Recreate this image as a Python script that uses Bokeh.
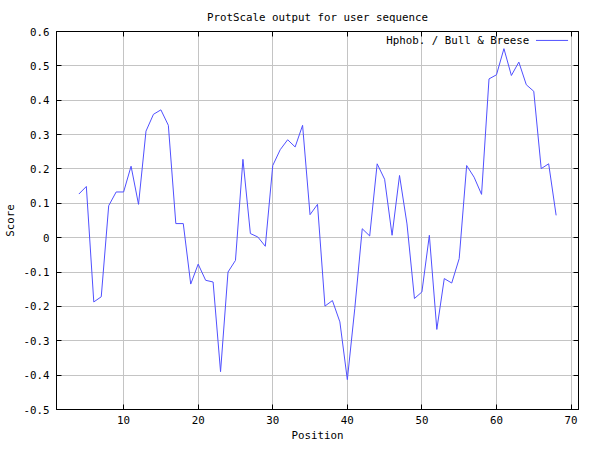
from bokeh.plotting import figure
from bokeh.models import FixedTicker, LinearAxis, Range1d, Label, Arrow
from bokeh.embed import file_html
from bokeh.resources import INLINE

# ---- data ----
positions = list(range(4, 69))
scores = [0.127, 0.149, -0.187, -0.172, 0.093, 0.133, 0.133, 0.208, 0.097, 0.310,
          0.359, 0.372, 0.327, 0.041, 0.041, -0.135, -0.077, -0.124, -0.129, -0.390,
          -0.100, -0.066, 0.228, 0.012, 0.002, -0.025, 0.210, 0.256, 0.285, 0.264,
          0.327, 0.067, 0.097, -0.199, -0.183, -0.245, -0.413, -0.206, 0.026, 0.005,
          0.215, 0.170, 0.007, 0.181, 0.040, -0.177, -0.158, 0.007, -0.267, -0.119,
          -0.132, -0.061, 0.210, 0.176, 0.126, 0.462, 0.474, 0.550, 0.472, 0.511,
          0.445, 0.426, 0.201, 0.215, 0.065]
x_ticks = [10, 20, 30, 40, 50, 60, 70]
x_tick_labels = ["10", "20", "30", "40", "50", "60", "70"]
y_ticks = [-0.5, -0.4, -0.3, -0.2, -0.1, 0.0, 0.1, 0.2, 0.3, 0.4, 0.5, 0.6]
y_tick_labels = ["-0.5", "-0.4", "-0.3", "-0.2", "-0.1", "0", "0.1", "0.2", "0.3", "0.4", "0.5", "0.6"]
title_text = "ProtScale output for user sequence"
x_label = "Position"
y_label = "Score"
series_name = "Hphob. / Bull & Breese"

FONT = "DejaVu Sans Mono"
FS = "10.8px"
LINE_COLOR = "#5050ff"

p = figure(frame_width=522, frame_height=378,
           x_range=Range1d(1, 71), y_range=Range1d(-0.5, 0.6),
           output_backend="svg", toolbar_location=None, tools="",
           min_border_left=56, min_border_right=22, min_border_top=31, min_border_bottom=40,
           title=title_text)

p.background_fill_color = "white"
p.border_fill_color = "white"
p.outline_line_color = "black"
p.outline_line_width = 1

p.title.text_font = FONT
p.title.text_font_size = FS
p.title.text_font_style = "normal"
p.title.align = "center"
p.title.text_color = "black"
p.title.standoff = 16

def style_axis(ax, ticks, labels, show_labels=True):
    ax.ticker = FixedTicker(ticks=ticks)
    ax.minor_tick_line_color = None
    ax.major_tick_in = 5
    ax.major_tick_out = 0
    ax.major_tick_line_color = "black"
    ax.axis_line_color = "black"
    ax.major_label_text_font = FONT
    ax.major_label_text_font_size = FS
    ax.major_label_text_color = "black"
    ax.axis_label_text_font = FONT
    ax.axis_label_text_font_size = FS
    ax.axis_label_text_font_style = "normal"
    ax.axis_label_text_color = "black"
    if show_labels:
        ax.major_label_overrides = {t: l for t, l in zip(ticks, labels)}
    else:
        ax.major_label_overrides = {t: "" for t in ticks}
        ax.major_label_standoff = 0

style_axis(p.xaxis[0], x_ticks, x_tick_labels)
style_axis(p.yaxis[0], y_ticks, y_tick_labels)
p.xaxis[0].axis_label = x_label
p.yaxis[0].axis_label = y_label
p.xaxis[0].major_label_standoff = 6
p.yaxis[0].major_label_standoff = 7
p.xaxis[0].axis_label_standoff = 2
p.yaxis[0].axis_label_standoff = 3

top_ax = LinearAxis()
right_ax = LinearAxis()
style_axis(top_ax, x_ticks, x_tick_labels, show_labels=False)
style_axis(right_ax, y_ticks, y_tick_labels, show_labels=False)
p.add_layout(top_ax, "above")
p.add_layout(right_ax, "right")

p.xgrid.ticker = FixedTicker(ticks=x_ticks)
p.ygrid.ticker = FixedTicker(ticks=y_ticks)
p.grid.grid_line_color = "#c4c4c4"
p.grid.grid_line_width = 1

p.line(positions, scores, line_color=LINE_COLOR, line_width=1)

# gnuplot-style key: text then line sample, top right
p.add_layout(Label(x=64.4, y=0.574, text=series_name, text_align="right",
                   text_baseline="middle", text_font=FONT, text_font_size=FS,
                   text_color="black"))
p.add_layout(Arrow(x_start=65.3, y_start=0.574, x_end=69.6, y_end=0.574,
                   start=None, end=None, line_color=LINE_COLOR, line_width=1))

open("out.html", "w").write(file_html(p, INLINE))
